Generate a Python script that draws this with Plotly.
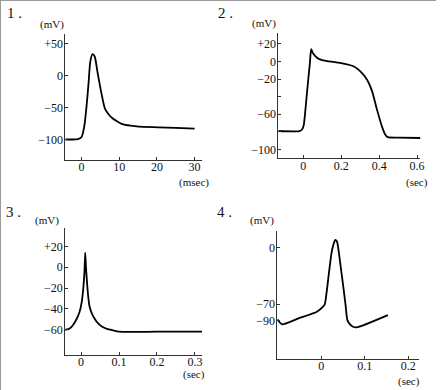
import plotly.graph_objects as go

# Panel 1: nerve action potential (msec, mV)
t1 = [-4.3, -2, -1, 0, 0.7, 1.3, 1.84, 2.3, 2.9, 3.5, 4.2, 5.1, 6.2, 7.2, 8.2, 9.5, 10.8, 13, 15.2, 20.4, 25, 30]
v1 = [-100, -100, -99.5, -96, -80, -49, -12.5, 21, 33, 29, 5.7, -23, -52, -61, -67, -72, -76, -78.5, -80, -81, -82, -83]

# Panel 2: cardiac ventricular action potential (sec, mV)
t2 = [-0.13, -0.02, -0.005, 0.003, 0.02, 0.035, 0.042, 0.05, 0.074, 0.1, 0.126, 0.2, 0.267, 0.3, 0.337, 0.363, 0.389, 0.415, 0.432, 0.445, 0.5, 0.629]
v2 = [-79, -79, -77, -72, -35, -2, 14, 10, 4, 1.5, 0.5, -2, -5.7, -11, -21, -34, -55, -74, -83, -86, -86.5, -87]

# Panel 3: smooth muscle spike (sec, mV)
t3 = [-0.042, -0.03, -0.022, -0.012, -0.004, 0.002, 0.006, 0.009, 0.011, 0.013, 0.015, 0.018, 0.022, 0.028, 0.035, 0.045, 0.057, 0.07, 0.083, 0.1, 0.2, 0.319]
v3 = [-60.3, -59, -56, -50, -43, -33, -20, -4.5, 14, 0, -11, -25, -37, -44, -49, -54, -57.5, -59.5, -60.6, -62, -62, -62]

# Panel 4: pacemaker potential (sec, mV)
t4 = [-0.1008, -0.098, -0.09, -0.05, -0.01, 0.004, 0.008, 0.017, 0.024, 0.029, 0.032, 0.036, 0.039, 0.045, 0.051, 0.056, 0.06, 0.066, 0.073, 0.081, 0.153]
v4 = [-88.5, -91, -95, -87, -79.3, -73, -70, -33.7, -4.7, 6, 9.9, 8, -0.5, -25, -50, -72, -89.7, -95, -98, -98.8, -83.5]

# Tick definitions
x1_ticks = [0, 10, 20, 30]
y1_ticks = [50, 0, -50, -100]
y1_text = ["+50", "0", "\u221250", "\u2212100"]
x2_ticks = [0, 0.2, 0.4, 0.6]
x2_text = ["0", "0.2", "0.4", "0.6"]
y2_ticks = [20, 0, -20, -40, -60, -80, -100]
y2_text = ["+20", "0", "\u221220", "", "\u221260", "", "\u2212100"]
x3_ticks = [0, 0.1, 0.2, 0.3]
x3_text = ["0", "0.1", "0.2", "0.3"]
y3_ticks = [20, 0, -20, -40, -60]
y3_text = ["+20", "0", "\u221220", "\u221240", "\u221260"]
x4_ticks = [0, 0.1, 0.2]
x4_text = ["0", "0.1", "0.2"]
y4_ticks = [0, -70, -90]
y4_text = ["0", "\u221270", "\u221290"]

FONT = "Liberation Serif"
W, H = 440, 390

fig = go.Figure()
for i, (t, v) in enumerate([(t1, v1), (t2, v2), (t3, v3), (t4, v4)], start=1):
    fig.add_trace(go.Scatter(x=t, y=v, mode="lines", line=dict(color="black", width=1.8, shape="spline", smoothing=0.6),
                             xaxis="x" if i == 1 else f"x{i}", yaxis="y" if i == 1 else f"y{i}",
                             showlegend=False, hoverinfo="skip"))

def px_dom(a, b, total, flip=False):
    if flip:
        return [1 - b / total, 1 - a / total]
    return [a / total, b / total]

axcommon = dict(showline=True, linecolor="#333", linewidth=1, ticks="inside", ticklen=3, tickcolor="#333",
                showgrid=False, zeroline=False, tickfont=dict(family=FONT, size=12, color="#111"), fixedrange=True)

panels = [
    (px_dom(66, 204, W), px_dom(34, 160, H, True), [-4.3, 32], [-132, 64.5], x1_ticks, [str(x) for x in x1_ticks], y1_ticks, y1_text),
    (px_dom(281, 424, W), px_dom(33.3, 158.3, H, True), [-0.1305, 0.616], [-110, 32], x2_ticks, x2_text, y2_ticks, y2_text),
    (px_dom(65.7, 204, W), px_dom(228, 355, H, True), [-0.042, 0.319], [-84.4, 37.7], x3_ticks, x3_text, y3_ticks, y3_text),
    (px_dom(280, 423, W), px_dom(231, 359, H, True), [-0.1008, 0.225], [-138, 21], x4_ticks, x4_text, y4_ticks, y4_text),
]

layout = {}
for i, (xd, yd, xr, yr, xt, xtt, yt, ytt) in enumerate(panels, start=1):
    xk = "xaxis" if i == 1 else f"xaxis{i}"
    yk = "yaxis" if i == 1 else f"yaxis{i}"
    xa = "x" if i == 1 else f"x{i}"
    ya = "y" if i == 1 else f"y{i}"
    layout[xk] = dict(axcommon, domain=xd, range=xr, anchor=ya, tickvals=xt, ticktext=xtt, ticklabelstandoff=-4)
    layout[yk] = dict(axcommon, domain=yd, range=yr, anchor=xa, tickvals=yt, ticktext=ytt, ticklabelstandoff=-1)

def ann(text, x, y, size=12):
    return dict(text=text, x=x / W, y=1 - y / H, xref="paper", yref="paper", showarrow=False,
                xanchor="center", yanchor="middle", font=dict(family=FONT, size=size, color="#111"))

annotations = [
    ann("1 .", 15, 13, 15), ann("2 .", 228, 13, 15), ann("3 .", 14, 212, 15), ann("4 .", 227, 212, 15),
    ann("(mV)", 52, 24, 11), ann("(mV)", 266, 23, 11), ann("(mV)", 47, 220, 11), ann("(mV)", 264, 220, 11),
    ann("(msec)", 196, 182, 11), ann("(sec)", 421, 182, 11), ann("(sec)", 196, 374, 11), ann("(sec)", 413, 381, 11),
]

shapes = [
    dict(type="line", xref="paper", yref="paper", x0=0, x1=1, y0=1, y1=1, line=dict(color="#999", width=2)),
    dict(type="line", xref="paper", yref="paper", x0=0, x1=0, y0=0, y1=1, line=dict(color="#999", width=2)),
]

fig.update_layout(width=W, height=H, margin=dict(l=0, r=0, t=0, b=0), plot_bgcolor="white", paper_bgcolor="white",
                  annotations=annotations, shapes=shapes, **layout)
fig.write_html("out.html", config={"displayModeBar": False},
               post_script="document.body.style.margin='0';document.body.style.overflow='hidden';")
